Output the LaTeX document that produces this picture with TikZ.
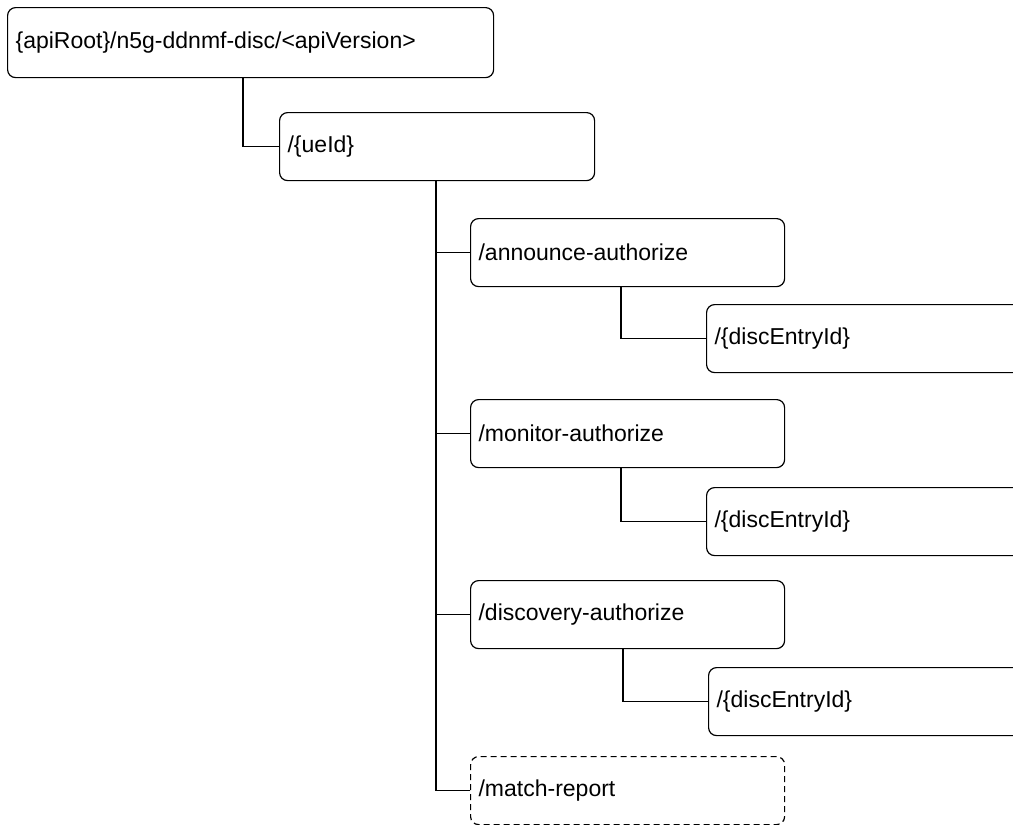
\documentclass[tikz,border=0pt]{standalone}
\usepackage{fontspec}
\setmainfont{Liberation Sans}
\usetikzlibrary{positioning}
\tikzset{
  res/.style={draw, rounded corners=8pt, line width=1.2pt, anchor=north west,
    minimum height=68pt, inner xsep=8pt, align=left,
    font=\fontsize{23}{27}\selectfont},
  opt/.style={res, dash pattern=on 6pt off 4pt},
  conn/.style={line width=1.2pt}
}

\begin{document}
\begin{tikzpicture}[x=1pt,y=-1pt]
    \clip (0,0) rectangle (1013,825);

    % Resources
    \node[res, text width=470pt, minimum height=70pt] (root) at (7,7) {\{apiRoot\}/n5g-ddnmf-disc/<apiVersion>};
    \node[res, text width=299pt] (ueid) at (279,112) {/\{ueId\}};
    \node[res, text width=298pt] (annc) at (470,218) {/announce-authorize};
    \node[res, text width=330pt] (anncid) at (706,304) {/\{discEntryId\}};
    \node[res, text width=298pt] (mon) at (470,399) {/monitor-authorize};
    \node[res, text width=330pt] (monid) at (706,487) {/\{discEntryId\}};
    \node[res, text width=298pt] (disc) at (470,580) {/discovery-authorize};
    \node[res, text width=330pt] (discid) at (708,667) {/\{discEntryId\}};
    \node[opt, text width=298pt] (match) at (470,756) {/match-report};

    % Tree lines
    \draw[conn] ([xshift=236pt]root.south west) |- (ueid.west);
    \foreach \n in {annc,mon,disc,match}
        \draw[conn] ([xshift=157pt]ueid.south west) |- (\n.west);
    \draw[conn] ([xshift=151pt]annc.south west) |- (anncid.west);
    \draw[conn] ([xshift=151pt]mon.south west) |- (monid.west);
    \draw[conn] ([xshift=153pt]disc.south west) |- (discid.west);
\end{tikzpicture}
\end{document}
